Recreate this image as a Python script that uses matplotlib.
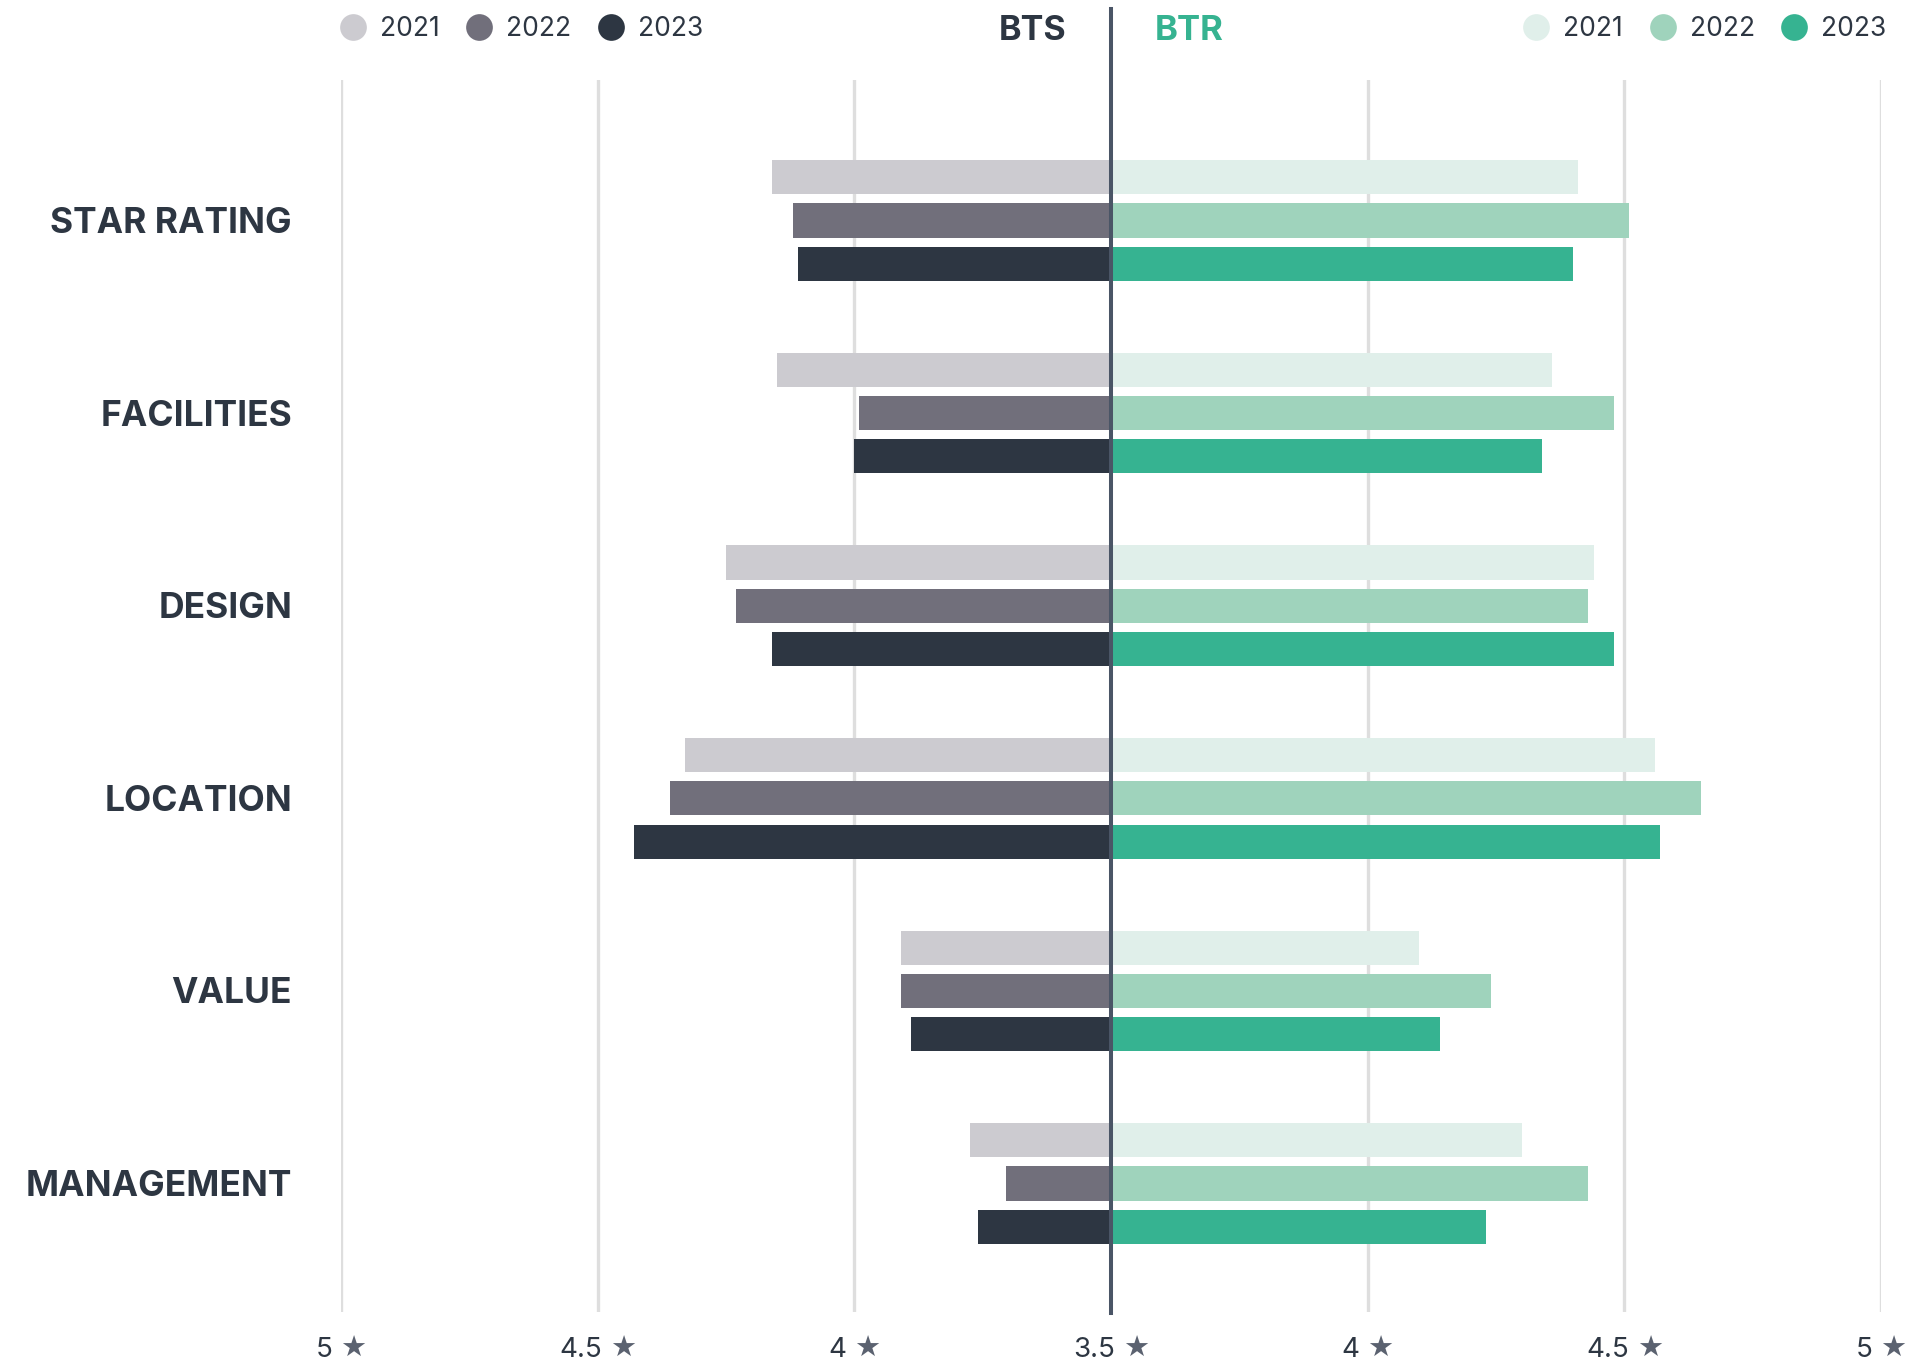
import numpy as np
import matplotlib
matplotlib.use("Agg")
import matplotlib.pyplot as plt

plt.rcParams['font.family'] = ['Inter', 'DejaVu Sans']

# average review scores per category, build-to-sell vs build-to-rent
categories = ["STAR RATING", "FACILITIES", "DESIGN", "LOCATION", "VALUE", "MANAGEMENT"]
years = ["2021", "2022", "2023"]

bts_2021 = [4.16, 4.15, 4.25, 4.33, 3.91, 3.775]
bts_2022 = [4.12, 3.99, 4.23, 4.36, 3.91, 3.705]
bts_2023 = [4.11, 4.00, 4.16, 4.43, 3.89, 3.76]

btr_2021 = [4.41, 4.36, 4.44, 4.56, 4.10, 4.30]
btr_2022 = [4.51, 4.48, 4.43, 4.65, 4.24, 4.43]
btr_2023 = [4.40, 4.34, 4.48, 4.57, 4.14, 4.23]

baseline = 3.5
tick_offsets = [-1.5, -1.0, -0.5, 0.0, 0.5, 1.0, 1.5]

bts_colors = ["#cccbd0", "#716f7b", "#2d3642"]
btr_colors = ["#e0efea", "#9fd3bc", "#36b391"]
text_dark = "#2d3642"
star_grey = "#5b6270"

W, H = 1910, 1364
fig = plt.figure(figsize=(W / 100, H / 100), dpi=100)
ax = fig.add_axes([341 / W, 52 / H, 1540 / W, 1232 / H])

# full-figure overlay in pixel units for headers, legends and tick labels
over = fig.add_axes([0, 0, 1, 1], zorder=5)
over.set_xlim(0, W)
over.set_ylim(H, 0)
over.axis("off")

y = np.arange(len(categories))
bar_h = 0.177
offsets = [-0.2245, 0.0, 0.2245]

bts = [bts_2021, bts_2022, bts_2023]
btr = [btr_2021, btr_2022, btr_2023]

for i in range(3):
    left_vals = baseline - np.array(bts[i])
    right_vals = np.array(btr[i]) - baseline
    ax.barh(y + offsets[i], left_vals, height=bar_h, color=bts_colors[i], zorder=3)
    ax.barh(y + offsets[i], right_vals, height=bar_h, color=btr_colors[i], zorder=3)

for t in tick_offsets:
    if t != 0:
        ax.axvline(t, color="#dedede", lw=2.4, zorder=1)

# centre divider runs up into the header
ax.plot([0, 0], [-0.001, 1.0576], transform=ax.get_xaxis_transform(),
        color="#4a5566", lw=2.9, clip_on=False, zorder=6)

ax.set_xlim(-1.5, 1.5)
ax.set_ylim(5.667, -0.7295)
ax.axis("off")

# category labels, caps centred on each group
for yi, name in zip(y, categories):
    px, py = ax.transData.transform((-1.5, yi))
    over.text(292, H - py + 12.5, name, ha="right", va="baseline", fontsize=25.5,
              fontweight="bold", color=text_dark)

# star tick labels: number in dark, star in grey, centred on the gridline
renderer = fig.canvas.get_renderer()
for t in tick_offsets:
    val = baseline + abs(t)
    label = ("%g" % val)
    px = ax.transData.transform((t, 0))[0]
    num = over.text(0, 1357, label, ha="left", va="baseline", fontsize=20, color=text_dark)
    star = over.text(0, 1357, "\u2605", ha="left", va="baseline", fontsize=21,
                     color=star_grey, family="DejaVu Sans")
    wn = num.get_window_extent(renderer).width
    ws = star.get_window_extent(renderer).width
    gap = 8
    x0 = px - (wn + gap + ws) / 2
    num.set_x(x0)
    star.set_x(x0 + wn + gap)

# headers
over.text(1066, 40, "BTS", ha="right", va="baseline", fontsize=24.5,
          fontweight="bold", color=text_dark)
over.text(1155, 40, "BTR", ha="left", va="baseline", fontsize=25,
          fontweight="bold", color="#36b391")

# legends
left_dots = [353, 479, 611]
right_dots = [1536, 1663, 1794]
for i, yr in enumerate(years):
    over.scatter(left_dots[i], 27, s=370, color=bts_colors[i], linewidths=0)
    over.text(left_dots[i] + 27, 36.5, yr, ha="left", va="baseline", fontsize=19, color=text_dark)
    over.scatter(right_dots[i], 27, s=370, color=btr_colors[i], linewidths=0)
    over.text(right_dots[i] + 27, 36.5, yr, ha="left", va="baseline", fontsize=19, color=text_dark)

fig.savefig("out.png", dpi=100, facecolor="white")
